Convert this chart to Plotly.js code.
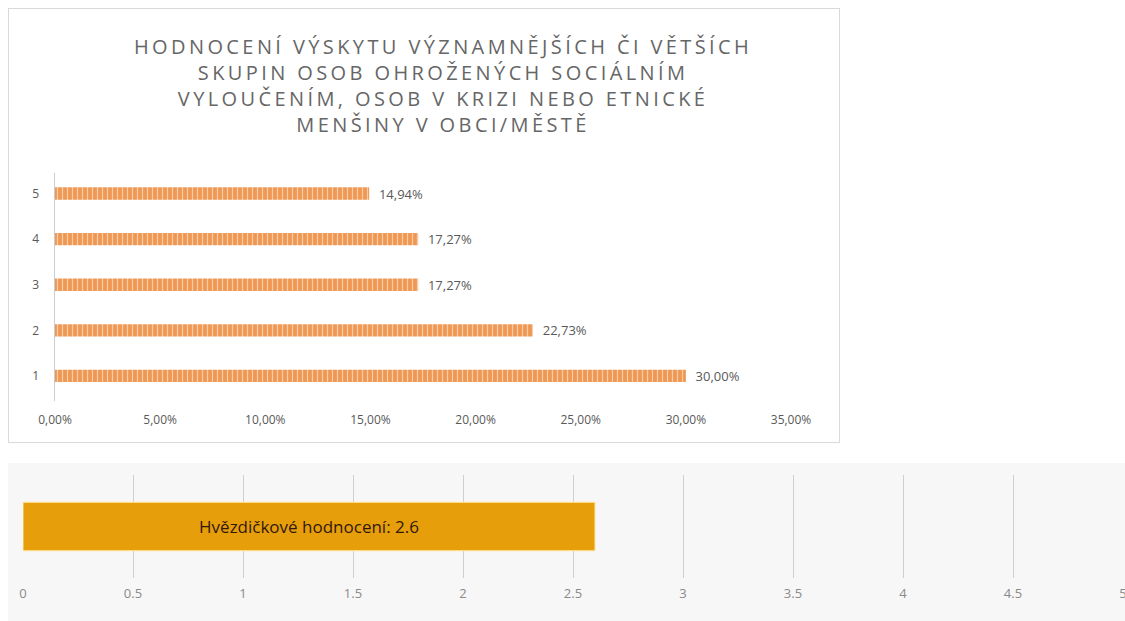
<!DOCTYPE html>
<html>
<head>
<meta charset="utf-8">
<script src="https://cdn.plot.ly/plotly-3.0.1.min.js"></script>
<style>
  html, body { margin: 0; padding: 0; background: #ffffff; width: 1125px; height: 621px; overflow: hidden; }
  #top { position: absolute; left: 8px; top: 8px; width: 830px; height: 433px; border: 1px solid #d9d9d9; background: #fff; }
  #bottom { position: absolute; left: 8px; top: 463px; width: 1117px; height: 158px; background: #f7f7f7; }
  #top .gtitle { letter-spacing: 3.4px; }
</style>
</head>
<body>
<div id="top"></div>
<div id="bottom"></div>
<script>
// ---- data: top chart ----
const categories = ["1", "2", "3", "4", "5"];
const shares = [0.30, 0.2273, 0.1727, 0.1727, 0.1494];
const xTickVals = [0, 0.05, 0.10, 0.15, 0.20, 0.25, 0.30, 0.35];
const chartTitle = "HODNOCENÍ VÝSKYTU VÝZNAMNĚJŠÍCH ČI VĚTŠÍCH<br>SKUPIN OSOB OHROŽENÝCH SOCIÁLNÍM<br>VYLOUČENÍM, OSOB V KRIZI NEBO ETNICKÉ<br>MENŠINY V OBCI/MĚSTĚ";

// ---- data: bottom chart ----
const ratingLabel = "Hvězdičkové hodnocení";
const ratingValue = [2.6];
const ratingCategory = ["rating"];
const ratingTicks = [0, 0.5, 1, 1.5, 2, 2.5, 3, 3.5, 4, 4.5, 5];

const font = "Open Sans, Liberation Sans, sans-serif";

Plotly.newPlot("top", [{
  type: "bar",
  orientation: "h",
  y: categories,
  x: shares,
  width: 0.27,
  marker: {
    color: "#EF9A57",
    pattern: { shape: "|", fgcolor: "#F9CBA6", bgcolor: "#EE9854", size: 5, solidity: 0.25 },
    line: { width: 0 }
  },
  texttemplate: "\u00a0\u00a0%{x:.2%}",
  textposition: "outside",
  constraintext: "none",
  textfont: { family: font, size: 13, color: "#595959" },
  cliponaxis: false,
  hoverinfo: "skip"
}], {
  width: 830, height: 433,
  separators: ", ",
  margin: { l: 46, r: 48, t: 164, b: 41 },
  paper_bgcolor: "#ffffff",
  plot_bgcolor: "#ffffff",
  showlegend: false,
  title: {
    text: chartTitle,
    font: { family: font, size: 20, color: "#666666" },
    x: 0.523, xanchor: "center",
    y: 0.897, yref: "container", yanchor: "top",
    pad: { t: 0 }
  },
  xaxis: {
    range: [0, 0.35],
    tickvals: xTickVals,
    tickformat: ".2%",
    showgrid: false,
    zeroline: false,
    showline: false,
    ticks: "",
    ticklabelstandoff: 10,
    tickfont: { family: font, size: 12, color: "#595959" },
    fixedrange: true
  },
  yaxis: {
    type: "category",
    range: [-0.55, 4.45],
    showgrid: false,
    zeroline: false,
    showline: true,
    linecolor: "#c8ced6",
    linewidth: 1.5,
    ticks: "",
    ticklabelstandoff: 12,
    tickfont: { family: font, size: 12, color: "#595959" },
    fixedrange: true
  }
}, { staticPlot: true });

Plotly.newPlot("bottom", [{
  type: "bar",
  orientation: "h",
  y: ratingCategory,
  x: ratingValue,
  width: 0.47,
  marker: { color: "#E69F0A", line: { color: "#FFE59A", width: 1 } },
  text: ratingValue.map(v => ratingLabel + ": " + v),
  textposition: "inside",
  insidetextanchor: "middle",
  constraintext: "none",
  textfont: { family: font, size: 17, color: "#33180a" },
  hoverinfo: "skip"
}], {
  width: 1117, height: 158,
  separators: ".,",
  margin: { l: 15, r: 2, t: 12, b: 43 },
  paper_bgcolor: "#f7f7f7",
  plot_bgcolor: "#f7f7f7",
  showlegend: false,
  xaxis: {
    range: [0, 5],
    tickvals: ratingTicks,
    showgrid: true,
    gridcolor: "#cfcfcf",
    gridwidth: 1,
    zeroline: false,
    showline: false,
    ticks: "",
    ticklabelstandoff: 6,
    ticklabeloverflow: "allow",
    tickfont: { family: font, size: 13, color: "#8a8a8a" },
    fixedrange: true
  },
  yaxis: {
    range: [-0.5, 0.5],
    visible: false,
    fixedrange: true
  }
}, { staticPlot: true });
</script>
</body>
</html>
